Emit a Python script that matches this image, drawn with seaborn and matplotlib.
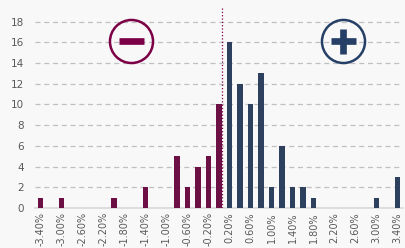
import matplotlib
matplotlib.use("Agg")
import matplotlib.pyplot as plt
import seaborn as sns
import pandas as pd
import numpy as np

# Return buckets (in %), counts per bucket
buckets = [-3.4, -3.2, -3.0, -2.8, -2.6, -2.4, -2.2, -2.0, -1.8, -1.6, -1.4, -1.2,
           -1.0, -0.8, -0.6, -0.4, -0.2, 0.0, 0.2, 0.4, 0.6, 0.8, 1.0, 1.2, 1.4,
           1.6, 1.8, 2.0, 2.2, 2.4, 2.6, 2.8, 3.0, 3.2, 3.4]
counts = [1, 0, 1, 0, 0, 0, 0, 1, 0, 0, 2, 0,
          0, 5, 2, 4, 5, 10, 16, 12, 10, 13, 2, 6, 2,
          2, 1, 0, 0, 0, 0, 0, 1, 0, 3]
side = ["neg"] * 18 + ["pos"] * 17

labels = [f"{b:.2f}%" for b in buckets]
df = pd.DataFrame({"bucket": labels, "count": counts, "side": side})

purple = "#7B0046"
navy = "#253F66"
grey_txt = "#595959"

sns.set_style("white")
fig = plt.figure(figsize=(4.06, 2.48), dpi=100)
fig.patch.set_facecolor("#F8F8F8")
ax = fig.add_axes([35 / 406, 40 / 248, 368 / 406, 201 / 248])
ax.set_facecolor("#F8F8F8")

sns.barplot(data=df, x="bucket", y="count", hue="side", order=labels,
            palette={"neg": purple, "pos": navy}, dodge=False, width=0.52,
            linewidth=0, legend=False, ax=ax, zorder=3)

ax.set_xlim(-0.5, len(labels) - 0.5)
ax.set_ylim(0, 19.4)
ax.set_yticks(range(0, 19, 2))
ax.yaxis.grid(True, linestyle=(0, (4, 3)), color="#C0C0C0", linewidth=0.9, zorder=0)
ax.set_xticks(range(0, len(labels), 2))
ax.set_xticklabels(labels[::2], rotation=90)
ax.set_xticks(np.arange(-0.5, len(labels), 1), minor=True)
ax.tick_params(axis="x", which="major", length=0, labelsize=7, labelcolor=grey_txt, pad=3)
ax.tick_params(axis="x", which="minor", length=4, color="#D9D9D9", width=0.8)
ax.tick_params(axis="y", length=0, labelsize=7.5, labelcolor=grey_txt, pad=8)
ax.set_xlabel("")
ax.set_ylabel("")
for s in ["top", "right", "left"]:
    ax.spines[s].set_visible(False)
ax.spines["bottom"].set_color("#D9D9D9")
ax.spines["bottom"].set_linewidth(1.2)

# zero marker line
ax.axvline(17.3, color=purple, linestyle=":", linewidth=0.9, zorder=4)

# minus / plus badges
for (xa, col, m, ms) in [(0.262, purple, "_", 18), (0.836, navy, "+", 18)]:
    ax.plot([xa], [0.83], transform=ax.transAxes, marker="o", markersize=31,
            markerfacecolor="none", markeredgecolor=col, markeredgewidth=1.8,
            clip_on=False, zorder=5)
    ax.plot([xa], [0.83], transform=ax.transAxes, marker=m, markersize=ms,
            markeredgecolor=col, markeredgewidth=4.8, clip_on=False, zorder=5)

fig.savefig("out.png", dpi=100, facecolor=fig.get_facecolor())
